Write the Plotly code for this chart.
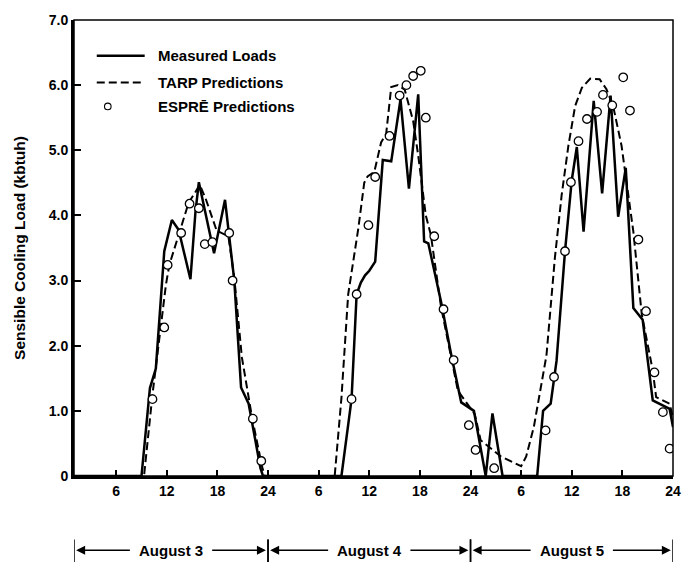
import plotly.graph_objects as go

# ---------------- data ----------------
# hour index runs 1..72 across August 3, 4 and 5
measured_hours = [1, 9.0, 10.0, 10.7, 11.7, 12.6, 13.4, 14.8, 15.4, 15.8, 17.6, 18.9, 20.0,
                  20.8, 21.7, 23.1, 23.4,
                  32.7, 33.9, 34.5, 35.0, 35.5, 36.0, 36.7, 37.6, 38.6, 39.7, 40.7, 41.8, 42.5,
                  43.0, 44.5, 45.7, 46.1, 46.9, 48.4, 49.0, 49.8, 50.6, 51.8,
                  55.9, 56.6, 57.5, 58.2, 59.2, 60.0, 60.6, 61.4, 62.6, 63.6, 64.6, 65.5,
                  66.4, 67.3, 68.4, 69.6, 71.6, 72.0]
measured_load = [0, 0, 1.35, 1.65, 3.45, 3.93, 3.78, 3.02, 4.06, 4.51, 3.42, 4.24, 3.0,
                 1.36, 1.11, 0.12, 0,
                 0, 1.18, 2.79, 2.97, 3.08, 3.15, 3.29, 4.85, 4.83, 5.78, 4.41, 5.86, 3.6,
                 3.57, 2.68, 1.87, 1.62, 1.13, 1.0, 0.55, 0, 0.96, 0,
                 0, 1.0, 1.11, 1.77, 3.45, 4.54, 5.05, 3.75, 5.76, 4.34, 5.84, 3.98,
                 4.73, 2.58, 2.40, 1.16, 1.03, 0.75]

tarp_hours = [1, 9.3, 10.3, 11.1, 11.9, 12.3, 13.4, 14.6, 15.3, 15.9, 16.6, 17.9, 19.3,
              20.0, 20.9, 22.1, 23.3, 23.6,
              31.9, 32.7, 33.5, 34.7, 35.4, 35.8, 36.6, 37.4, 38.0, 38.6, 39.4, 40.2,
              41.2, 41.8, 42.7, 43.3, 44.5, 45.7, 46.5, 48.5, 49.2, 51.6, 53.3, 54.0,
              54.6, 55.5, 57.0, 58.0, 58.8, 59.6, 60.4, 61.2, 62.2, 63.3, 64.1, 64.9,
              65.9, 66.7, 67.3, 68.3, 69.6, 70.0, 71.6, 72.0]
tarp_load = [0, 0, 1.25, 2.12, 2.94, 3.24, 3.7, 4.2, 4.34, 4.47, 4.26, 3.77, 3.68,
             3.04, 1.82, 0.9, 0.14, 0,
             0, 1.2, 2.79, 3.8, 4.5, 4.6, 4.67, 5.12, 5.25, 5.97, 6.0, 5.93,
             5.45, 4.92, 4.0, 3.7, 2.6, 1.85, 1.31, 0.95, 0.55, 0.3, 0.2, 0.15,
             0.3, 0.75, 1.85, 3.35, 4.31, 5.07, 5.68, 5.96, 6.1, 6.09, 5.94, 5.68,
             5.07, 4.31, 3.75, 2.48, 1.62, 1.21, 1.11, 0.9]

espre_hours = [10.3, 11.7, 12.1, 13.7, 14.7, 15.8, 16.5, 17.4, 19.4, 19.8, 22.2, 23.2,
               33.9, 34.5, 35.9, 36.7, 38.4, 39.6, 40.4, 41.2, 42.1, 42.7, 43.7, 44.8,
               46.0, 47.8, 48.6, 50.8,
               56.9, 57.9, 59.2, 59.9, 60.8, 61.8, 63.0, 63.7, 64.8, 66.1, 66.9, 67.9,
               68.8, 69.8, 70.8, 71.6]
espre_load = [1.18, 2.28, 3.24, 3.73, 4.18, 4.11, 3.56, 3.59, 3.73, 3.0, 0.88, 0.23,
              1.18, 2.79, 3.85, 4.59, 5.22, 5.84, 6.0, 6.14, 6.22, 5.5, 3.68, 2.56,
              1.78, 0.78, 0.4, 0.12,
              0.70, 1.52, 3.45, 4.51, 5.14, 5.48, 5.59, 5.85, 5.69, 6.12, 5.61, 3.63,
              2.53, 1.59, 0.98, 0.42]

series_names = ["Measured Loads", "TARP Predictions", "ESPRĒ Predictions"]

x_tick_vals = [6, 12, 18, 24, 30, 36, 42, 48, 54, 60, 66, 72]
x_tick_text = ["6", "12", "18", "24", "6", "12", "18", "24", "6", "12", "18", "24"]
y_tick_vals = [0, 1, 2, 3, 4, 5, 6, 7]
y_tick_text = ["0", "1.0", "2.0", "3.0", "4.0", "5.0", "6.0", "7.0"]

day_labels = ["August 3", "August 4", "August 5"]
day_bounds = [1, 24, 48, 72]

FONT = "Liberation Sans, Arial, sans-serif"
DASH = "8px,4px"

fig = go.Figure()
fig.add_trace(go.Scatter(
    x=measured_hours, y=measured_load, mode="lines", name=series_names[0],
    showlegend=False, line=dict(color="black", width=2.5)))
fig.add_trace(go.Scatter(
    x=tarp_hours, y=tarp_load, mode="lines", name=series_names[1],
    showlegend=False, line=dict(color="black", width=2, dash=DASH)))
fig.add_trace(go.Scatter(
    x=espre_hours, y=espre_load, mode="markers", name=series_names[2],
    showlegend=False,
    marker=dict(symbol="circle", size=8.5, color="white",
                line=dict(color="black", width=1.3))))

shapes = [dict(type="rect", xref="paper", yref="paper", x0=0, x1=1, y0=0, y1=1,
               line=dict(color="black", width=1.5), layer="above")]
annotations = []

# ---- hand-placed legend (long line samples as in the original) ----
leg_line_x0, leg_line_x1, leg_text_x = 0.038, 0.118, 0.1376
leg_y = [0.9216, 0.8627, 0.8105]
shapes.append(dict(type="line", xref="paper", yref="paper", x0=leg_line_x0, x1=leg_line_x1,
                   y0=leg_y[0], y1=leg_y[0], line=dict(color="black", width=2.5)))
shapes.append(dict(type="line", xref="paper", yref="paper", x0=leg_line_x0, x1=leg_line_x1,
                   y0=leg_y[1], y1=leg_y[1], line=dict(color="black", width=2, dash=DASH)))
shapes.append(dict(type="circle", xref="paper", yref="paper", xsizemode="pixel",
                   ysizemode="pixel", xanchor=0.0564, yanchor=leg_y[2],
                   x0=-3.3, x1=3.3, y0=-3.3, y1=3.3,
                   line=dict(color="black", width=1.1), fillcolor="white"))
for name, yy in zip(series_names, leg_y):
    annotations.append(dict(x=leg_text_x, y=yy, xref="paper", yref="paper", text=name,
                            showarrow=False, xanchor="left", yanchor="middle",
                            font=dict(family=FONT, size=15, color="black", weight="bold")))

# ---- day brackets under the axis ----
for i, lab in enumerate(day_labels):
    a, b = day_bounds[i], day_bounds[i + 1]
    mid = (a + b) / 2
    for xb in (a, b):
        shapes.append(dict(type="line", xref="x", yref="paper", x0=xb, x1=xb,
                           y0=-0.139, y1=-0.19, line=dict(color="black", width=1.5)))
    annotations.append(dict(x=mid, y=-0.163, xref="x", yref="paper", text=lab,
                            showarrow=False, yanchor="middle",
                            font=dict(family=FONT, size=15, color="black", weight="bold")))
    annotations.append(dict(x=a + 0.25, y=-0.163, xref="x", yref="paper", text="",
                            showarrow=True, axref="x", ax=mid - 4.7, ayref="pixel", ay=0,
                            arrowhead=2, arrowsize=1.2, arrowwidth=1.5, arrowcolor="black",
                            standoff=0, startstandoff=0))
    annotations.append(dict(x=b - 0.25, y=-0.163, xref="x", yref="paper", text="",
                            showarrow=True, axref="x", ax=mid + 4.7, ayref="pixel", ay=0,
                            arrowhead=2, arrowsize=1.2, arrowwidth=1.5, arrowcolor="black",
                            standoff=0, startstandoff=0))

fig.update_layout(
    width=693, height=562,
    margin=dict(l=74, r=16, t=17, b=86),
    paper_bgcolor="white", plot_bgcolor="white",
    font=dict(family=FONT, size=14, color="black", weight="bold"),
    showlegend=False,
    xaxis=dict(range=[1, 72], tickvals=x_tick_vals, ticktext=x_tick_text,
               ticks="inside", ticklen=6, tickwidth=1.5, tickcolor="black",
               showline=True, linewidth=3, linecolor="black", showgrid=False,
               zeroline=False, tickfont=dict(family=FONT, size=14, weight="bold")),
    yaxis=dict(range=[0, 7], tickvals=y_tick_vals, ticktext=y_tick_text,
               ticks="inside", ticklen=7, tickwidth=1.5, tickcolor="black",
               showline=True, linewidth=3, linecolor="black", showgrid=False,
               zeroline=False, tickfont=dict(family=FONT, size=14, weight="bold"),
               title=dict(text="Sensible Cooling Load (kbtuh)", standoff=20,
                          font=dict(family=FONT, size=15.5, weight="bold"))),
    shapes=shapes,
    annotations=annotations,
)

fig.write_html("out.html")
